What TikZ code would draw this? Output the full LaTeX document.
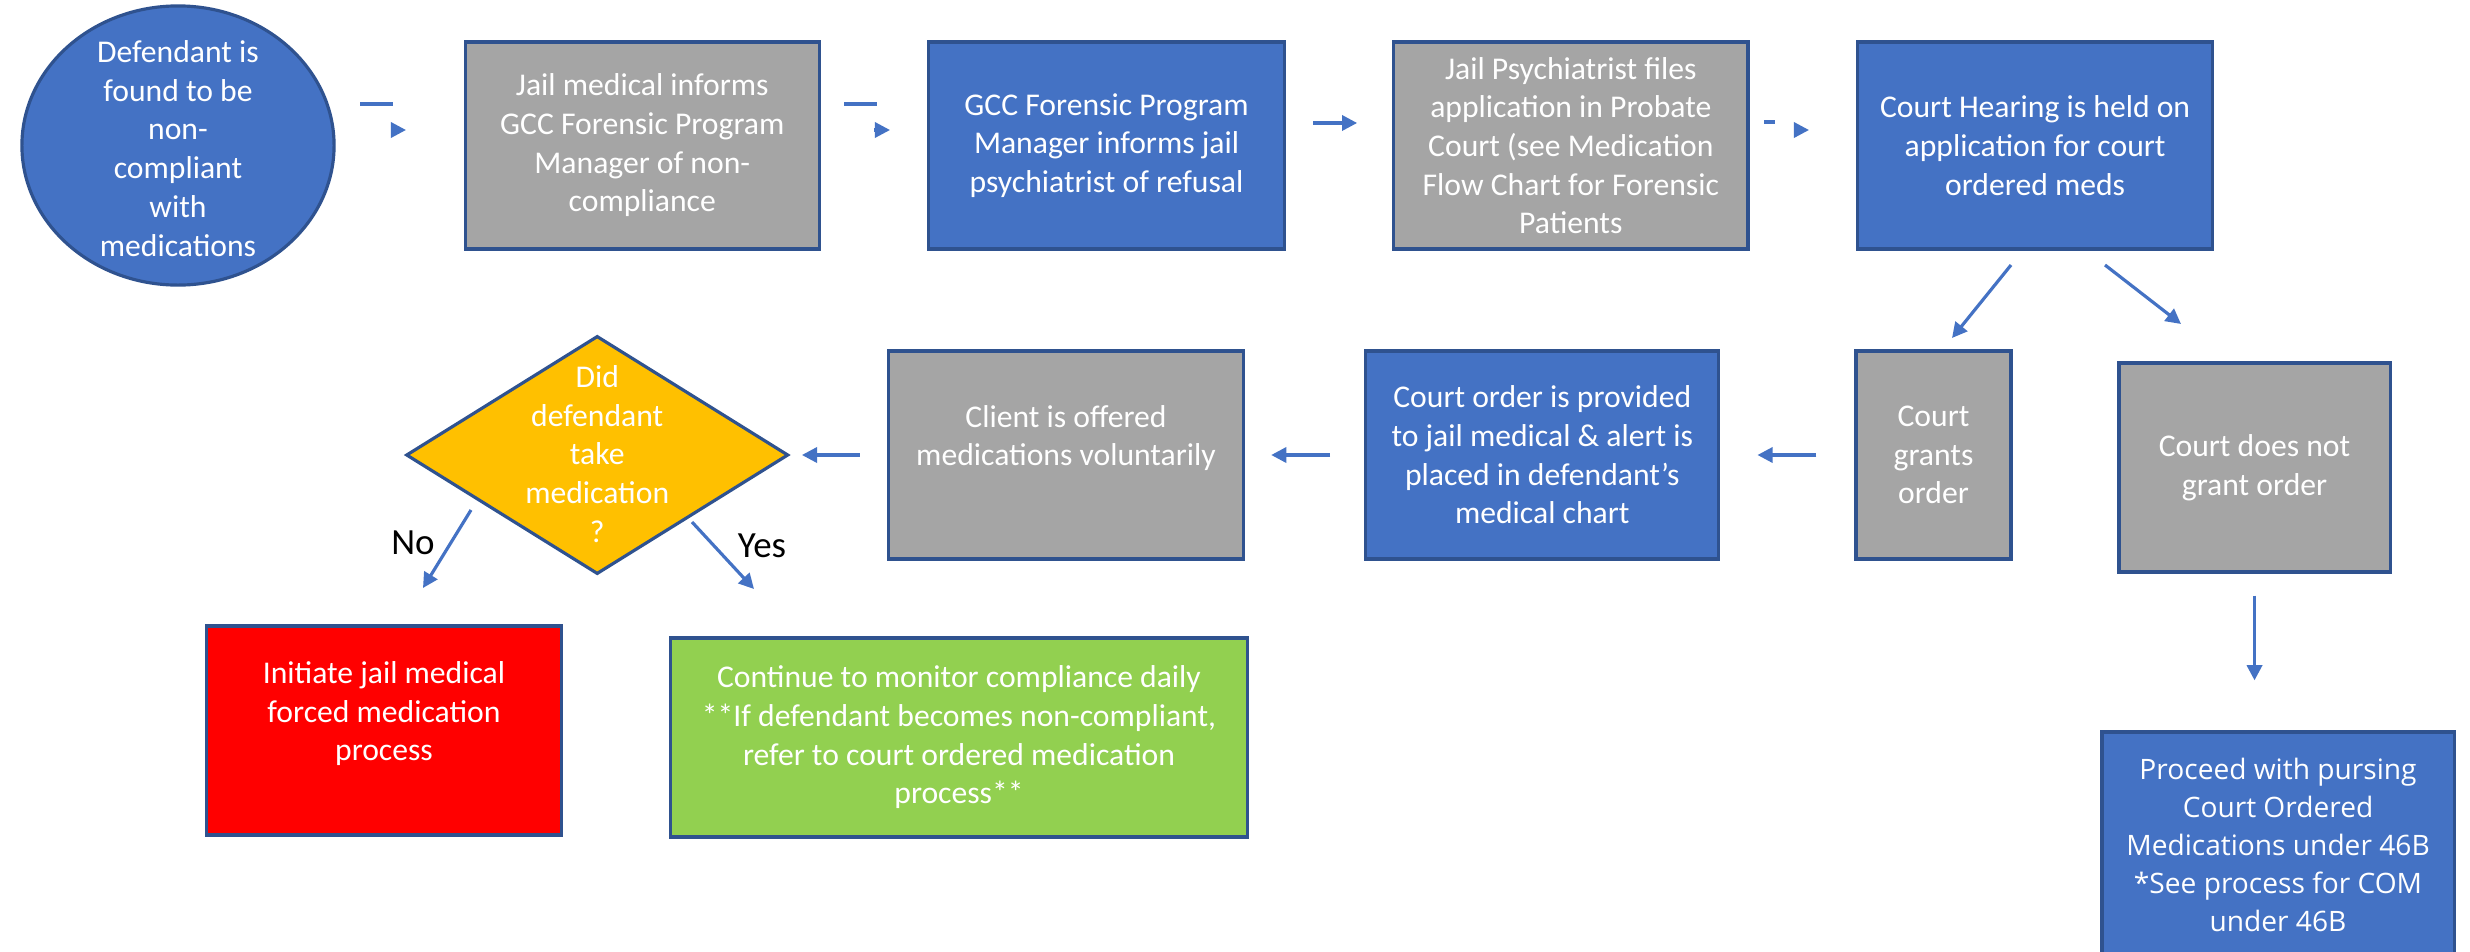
\documentclass[tikz,border=0pt]{standalone}
\usepackage{fontspec}
\setmainfont{Carlito}
\newfontfamily\proceedfont{Open Sans}
\usetikzlibrary{positioning,shapes.geometric,arrows.meta}

\definecolor{officeblue}{HTML}{4472C4}
\definecolor{edgeblue}{HTML}{2F528F}
\definecolor{officegrey}{HTML}{A5A5A5}
\definecolor{officegold}{HTML}{FFC000}
\definecolor{officegreen}{HTML}{92D050}

% stacked lines that do not push the shape bigger (#1 = lift)
\newcommand{\tightstack}[2]{\smash{\raisebox{#1}{\begin{tabular}{@{}c@{}}#2\end{tabular}}}}

\begin{document}
\begin{tikzpicture}[x=0.01cm, y=-0.01cm,
					font=\fontsize{9}{11}\selectfont,
					node distance=4.64cm,
					box/.style={rectangle,draw=edgeblue,line width=0.9pt,text=white,align=center,inner sep=0pt},
					blue box/.style={box,fill=officeblue},
					grey box/.style={box,fill=officegrey},
					link/.style={draw=officeblue,line width=0.9pt,-{Triangle[length=4.3pt,width=4.3pt]}},
					stub/.style={draw=officeblue,line width=0.9pt},
					answer/.style={text=black,font=\fontsize{10.5}{12}\selectfont}]

  \useasboundingbox[fill=white] (0,0) rectangle (2470,951);

  % top row
  \node[ellipse,draw=edgeblue,fill=officeblue,line width=0.9pt,text=white,inner sep=0pt,
        minimum width=3.12cm,minimum height=2.79cm] (found) at (178,145.5)
        {\tightstack{-1.4mm}{Defendant is\\found to be\\non-\\compliant\\with\\medications}};
  \node[grey box,minimum width=3.54cm,minimum height=2.07cm] (jailmed) [right of=found]
        {Jail medical informs\\GCC Forensic Program\\Manager of non-\\compliance};
  \node[blue box,minimum width=3.56cm,minimum height=2.07cm] (prog) [right of=jailmed]
        {GCC Forensic Program\\Manager informs jail\\psychiatrist of refusal};
  \node[grey box,minimum width=3.54cm,minimum height=2.07cm] (psych) [right of=prog]
        {Jail Psychiatrist files\\application in Probate\\Court (see Medication\\Flow Chart for Forensic\\Patients};
  \node[blue box,minimum width=3.55cm,minimum height=2.07cm] (hearing) [right of=psych]
        {Court Hearing is held on\\application for court\\ordered meds};

  % court outcome
  \node[grey box,minimum width=1.55cm,minimum height=2.08cm] (grants) at (1933.5,455)
        {Court\\grants\\order};
  \node[grey box,minimum width=2.71cm,minimum height=2.09cm] (notgrant) at (2254.5,467.5)
        {Court does not\\grant order};
  \node[blue box,minimum width=3.52cm,minimum height=2.26cm,
        font=\proceedfont\fontsize{8}{10.8}\selectfont] (proceed) at (2278,845)
        {Proceed with pursing\\Court Ordered\\Medications under 46B\\*See process for COM\\under 46B};

  % bottom row, right to left
  \node[blue box,minimum width=3.53cm,minimum height=2.08cm] (order) [left of=grants,node distance=3.91cm]
        {Court order is provided\\to jail medical \& alert is\\placed in defendant’s\\medical chart};
  \node[grey box,minimum width=3.55cm,minimum height=2.08cm] (client) [left of=order,node distance=4.76cm]
        {Client is offered\\medications voluntarily\\\mbox{}};
  \node[diamond,aspect=1.6,draw=edgeblue,fill=officegold,line width=0.9pt,text=white,inner sep=0pt,
        minimum width=3.82cm,minimum height=2.38cm] (decide) [left of=client,node distance=4.685cm]
        {\tightstack{-1mm}{Did\\defendant\\take\\medication\\?}};

  \node[box,fill=red,minimum width=3.54cm,minimum height=2.09cm] (forced) at (384,730.5)
        {Initiate jail medical\\forced medication\\process\\\mbox{}};
  \node[box,fill=officegreen,minimum width=5.76cm,minimum height=1.99cm] (monitor) at (959,737.5)
        {Continue to monitor compliance daily\\**If defendant becomes non-compliant,\\refer to court ordered medication\\process**};

  \node[answer] (nolabel) at (413,543) {No};
  \node[answer] (yeslabel) at (762,546) {Yes};

  % loose arrow pieces
  \coordinate (d1a) at (360,104);  \coordinate (d1b) at (393,104);
  \coordinate (h1a) at (391,130);  \coordinate (h1b) at (406,130);
  \coordinate (d2a) at (844,104);  \coordinate (d2b) at (877,104);
  \coordinate (h2a) at (874,130);  \coordinate (h2b) at (890,130);
  \coordinate (d4a) at (1764,122); \coordinate (d4b) at (1775,122);
  \coordinate (h4a) at (1794,130); \coordinate (h4b) at (1809,130);
  \coordinate (g1) at (2011,265);  \coordinate (g2) at (1952,338);
  \coordinate (n1) at (2105,265);  \coordinate (n2) at (2181,324);
  \coordinate (no1) at (471,510);  \coordinate (no2) at (423,588);
  \coordinate (yes1) at (692,522); \coordinate (yes2) at (754,589);

  \draw[stub] (d1a) -- (d1b);
  \draw[link] (h1a) -- (h1b);
  \draw[stub] (d2a) -- (d2b);
  \draw[link] (h2a) -- (h2b);
  \draw[link,shorten <=0.27cm,shorten >=0.35cm] ([yshift=0.225cm]prog.east) -- ([yshift=0.225cm]psych.west);
  \draw[stub] (d4a) -- (d4b);
  \draw[link] (h4a) -- (h4b);

  \draw[link] (g1) -- (g2);
  \draw[link] (n1) -- (n2);
  \draw[link,shorten <=0.22cm,shorten >=0.5cm] (notgrant) -- (notgrant |- proceed.north);
  \draw[link,shorten <=0.38cm,shorten >=0.37cm] (grants) -- (order);
  \draw[link,shorten <=0.34cm,shorten >=0.26cm] (order) -- (client);
  \draw[link,shorten <=0.27cm,shorten >=0.12cm] (client) -- (decide);
  \draw[link] (no1) -- (no2);
  \draw[link] (yes1) -- (yes2);
\end{tikzpicture}
\end{document}
